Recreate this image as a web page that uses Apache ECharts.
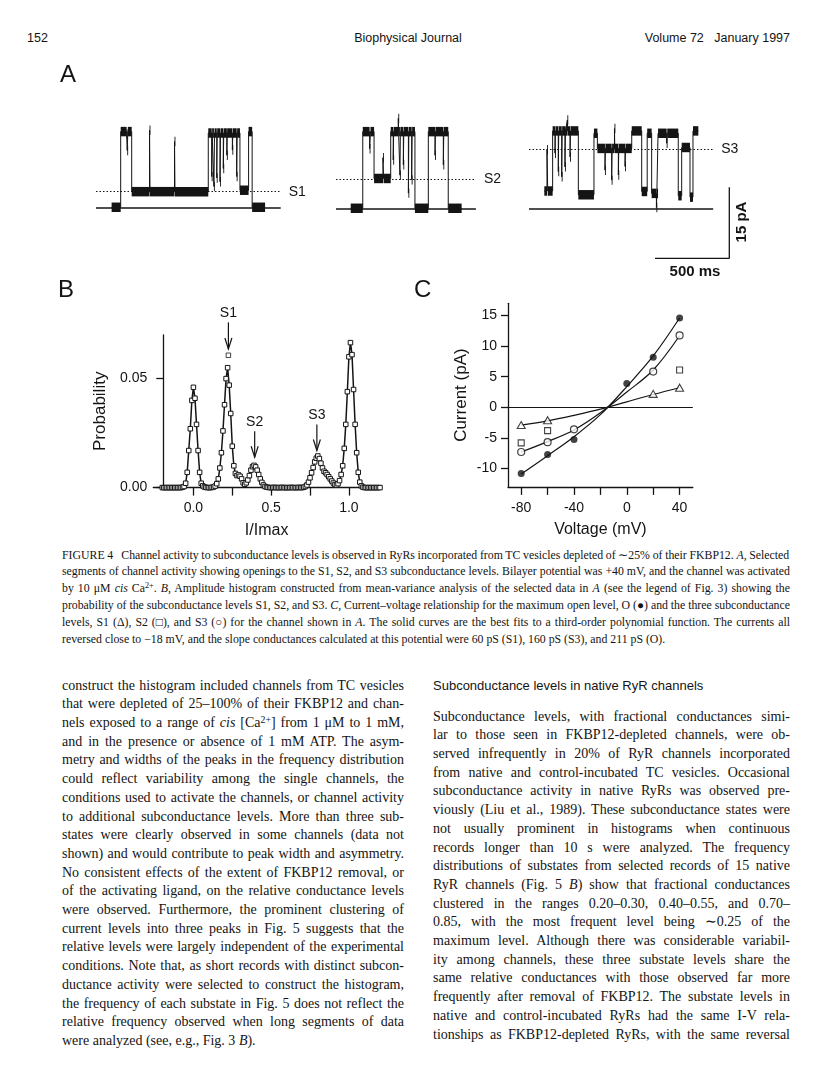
<!DOCTYPE html>
<html><head><meta charset="utf-8">
<script src="https://cdn.jsdelivr.net/npm/echarts@6/dist/echarts.min.js"></script>
<style>
html,body{margin:0;padding:0;background:#fff}
body{width:816px;height:1078px;position:relative;overflow:hidden;color:#141414}
#chart{position:absolute;left:0;top:0;width:816px;height:545px}
.hdr{position:absolute;top:31px;font:12.5px "Liberation Sans",Arial,sans-serif;line-height:14px}
.blk{position:absolute;font-family:"Liberation Serif","Times New Roman",serif}
.blk div{white-space:nowrap;overflow:visible}
.cap{left:62px;top:546.6px;width:728px;font-size:11.8px;line-height:16.8px}
.colL{left:62px;top:676.6px;width:342px;font-size:14px;line-height:18.7px}
.colR{left:433px;top:707.6px;width:357px;font-size:14px;line-height:18.7px}
.head{position:absolute;left:433px;top:678px;font:13px "Liberation Sans",Arial,sans-serif;line-height:16px}
sup{font-size:0.7em;line-height:0;vertical-align:0.45em}
</style></head>
<body>
<div class="hdr" style="left:27px">152</div>
<div class="hdr" style="left:0;width:816px;text-align:center">Biophysical Journal</div>
<div class="hdr" style="right:26px">Volume 72&nbsp;&nbsp;&nbsp;January 1997</div>
<div id="chart"></div>

<div class="blk cap">
<div class="j"><span>FIGURE 4&nbsp;&nbsp;&nbsp;Channel activity to subconductance levels is observed in RyRs incorporated from TC vesicles depleted of ∼25% of their FKBP12. <i>A</i>, Selected</span></div>
<div class="j"><span>segments of channel activity showing openings to the S1, S2, and S3 subconductance levels. Bilayer potential was +40 mV, and the channel was activated</span></div>
<div class="j"><span>by 10 μM <i>cis</i> Ca<sup>2+</sup>. <i>B</i>, Amplitude histogram constructed from mean-variance analysis of the selected data in <i>A</i> (see the legend of Fig. 3) showing the</span></div>
<div class="j"><span>probability of the subconductance levels S1, S2, and S3. <i>C</i>, Current–voltage relationship for the maximum open level, O (●) and the three subconductance</span></div>
<div class="j"><span>levels, S1 (Δ), S2 (□), and S3 (○) for the channel shown in <i>A</i>. The solid curves are the best fits to a third-order polynomial function. The currents all</span></div>
<div class="l"><span>reversed close to −18 mV, and the slope conductances calculated at this potential were 60 pS (S1), 160 pS (S3), and 211 pS (O).</span></div>
</div>

<div class="blk colL">
<div class="j"><span>construct the histogram included channels from TC vesicles</span></div>
<div class="j"><span>that were depleted of 25–100% of their FKBP12 and chan-</span></div>
<div class="j"><span>nels exposed to a range of <i>cis</i> [Ca<sup>2+</sup>] from 1 μM to 1 mM,</span></div>
<div class="j"><span>and in the presence or absence of 1 mM ATP. The asym-</span></div>
<div class="j"><span>metry and widths of the peaks in the frequency distribution</span></div>
<div class="j"><span>could reflect variability among the single channels, the</span></div>
<div class="j"><span>conditions used to activate the channels, or channel activity</span></div>
<div class="j"><span>to additional subconductance levels. More than three sub-</span></div>
<div class="j"><span>states were clearly observed in some channels (data not</span></div>
<div class="j"><span>shown) and would contribute to peak width and asymmetry.</span></div>
<div class="j"><span>No consistent effects of the extent of FKBP12 removal, or</span></div>
<div class="j"><span>of the activating ligand, on the relative conductance levels</span></div>
<div class="j"><span>were observed. Furthermore, the prominent clustering of</span></div>
<div class="j"><span>current levels into three peaks in Fig. 5 suggests that the</span></div>
<div class="j"><span>relative levels were largely independent of the experimental</span></div>
<div class="j"><span>conditions. Note that, as short records with distinct subcon-</span></div>
<div class="j"><span>ductance activity were selected to construct the histogram,</span></div>
<div class="j"><span>the frequency of each substate in Fig. 5 does not reflect the</span></div>
<div class="j"><span>relative frequency observed when long segments of data</span></div>
<div class="l"><span>were analyzed (see, e.g., Fig. 3 <i>B</i>).</span></div>
</div>

<div class="head">Subconductance levels in native RyR channels</div>
<div class="blk colR">
<div class="j"><span>Subconductance levels, with fractional conductances simi-</span></div>
<div class="j"><span>lar to those seen in FKBP12-depleted channels, were ob-</span></div>
<div class="j"><span>served infrequently in 20% of RyR channels incorporated</span></div>
<div class="j"><span>from native and control-incubated TC vesicles. Occasional</span></div>
<div class="j"><span>subconductance activity in native RyRs was observed pre-</span></div>
<div class="j"><span>viously (Liu et al., 1989). These subconductance states were</span></div>
<div class="j"><span>not usually prominent in histograms when continuous</span></div>
<div class="j"><span>records longer than 10 s were analyzed. The frequency</span></div>
<div class="j"><span>distributions of substates from selected records of 15 native</span></div>
<div class="j"><span>RyR channels (Fig. 5 <i>B</i>) show that fractional conductances</span></div>
<div class="j"><span>clustered in the ranges 0.20–0.30, 0.40–0.55, and 0.70–</span></div>
<div class="j"><span>0.85, with the most frequent level being ∼0.25 of the</span></div>
<div class="j"><span>maximum level. Although there was considerable variabil-</span></div>
<div class="j"><span>ity among channels, these three substate levels share the</span></div>
<div class="j"><span>same relative conductances with those observed far more</span></div>
<div class="j"><span>frequently after removal of FKBP12. The substate levels in</span></div>
<div class="j"><span>native and control-incubated RyRs had the same I-V rela-</span></div>
<div class="j"><span>tionships as FKBP12-depleted RyRs, with the same reversal</span></div>
</div>

<script>
// ---------------- DATA ----------------
// Panel A: idealised single-channel records, [time ms, current pA] step points
const trace1Steps = [[105,0],[166,16],[206,15.5],[210,12],[214,16],[240,3.3],[360,16.3],[363,3.3],[528,13.9],[531,3.3],
  [755,15.7],[778,6.5],[781,15.7],[793,4.4],[797,15.7],[812,6.2],[815,15.7],[834,5.4],[837,15.7],[856,8.2],[859,15.7],
  [880,11],[882,15.7],[917,12.1],[920,15.7],[946,6.5],[949,15.7],[968,3.6],[1026,16],[1050,0],[1137,0]];
const trace2Steps = [[99,0],[180,16.2],[226,12.6],[232,16.2],[256,6.3],[316,10.7],[320,6.3],[368,16.2],[385,10.2],[388,16.2],
  [419,19],[421,16.2],[430,7],[433,16.2],[453,9.2],[456,16.2],[487,3.2],[490,16.2],[509,6],[512,16.2],[531,0],
  [621,16.2],[666,11.2],[669,16.2],[722,9.2],[725,16.2],[755,0],[845,0]];
const trace3Steps = [[103,3.8],[121,12.5],[126,3.8],[159,16.5],[175,11.8],[178,16.5],[197,7.9],[200,16.5],[220,6.8],[223,16.5],
  [242,8.9],[245,16.5],[258,18.8],[260,16.5],[276,11],[279,16.5],[332,3.0],[437,16],[460,12.8],[511,8.2],[514,12.8],
  [556,6.1],[559,12.8],[575,17],[577,12.8],[601,7.2],[604,12.8],[646,9],[649,12.8],[691,16.5],[758,3.7],[795,16],
  [825,3.3],[857,0.3],[860,3.3],[868,16],[926,13.9],[930,16],[1004,2.8],[1027,13],[1083,2.5],[1103,16.5],[1139,16.5]];
const traceDurations = [1242, 941, 1239];          // ms
const subLevelNames = ['S1', 'S2', 'S3'];
const subLevels = [3.3, 6.2, 12.6];                // pA
const scaleBarTime = 500;                          // ms
const scaleBarCurrent = 15;                        // pA

// Panel B: amplitude histogram, bins of 0.01 starting at -0.20
const histBinStart = -0.20;
const histBinWidth = 0.01;
const histProb = [
  0,0,0,0,0,0,0,0,0,0,0,0,0,0.0002,                       // -0.20 .. -0.07
  0.0005,0.002,0.007,0.017,0.027,0.040,0.046,0.041,0.029,0.017,0.007,0.002,0.0008,0.0003, // -0.06 .. 0.07
  0.0001,0,0,0,0.0001,0.0003,0.0007,0.0018,0.004,0.009,0.016,0.026,0.038,0.050,0.055,0.047, // 0.08 .. 0.23
  0.034,0.019,0.010,0.0065,0.0055,0.0058,0.0052,0.0040,0.0022,0.0015,0.0022,0.0035,0.0055,0.008, // 0.24 .. 0.37
  0.0096,0.0102,0.0095,0.0080,0.0060,0.0040,0.0024,0.0012,0.0005,0.0002,                  // 0.38 .. 0.47
  0.0001,0,0,0,0.0001,0,0,0,0,0.0001,0,0,0,0,0,0.0001,0,0,0,0,0.0001,0,0,                // 0.48 .. 0.70
  0.0002,0.0005,0.0012,0.0025,0.0045,0.0068,0.0092,0.0118,0.0135,0.0145,0.0133,0.0112,0.0090, // 0.71 .. 0.83
  0.0075,0.0068,0.0060,0.0050,0.0040,0.0030,0.0021,0.0014,0.0012,0.0018,0.0032,0.0060,0.0100, // 0.84 .. 0.96
  0.0180,0.0290,0.0440,0.0600,0.0665,0.0610,0.0450,0.0290,0.0160,0.0070,0.0025,0.0008,0.0002, // 0.97 .. 1.09
  0,0,0,0,0,0,0,0,0,0,0                                    // 1.10 .. 1.20
];
const histExtraX = [0.225];
const histExtraY = [0.0607];
const arrowLabels = ['S1', 'S2', 'S3'];
const arrowX = [0.225, 0.394, 0.794];
const arrowTop = [0.0758, 0.0258, 0.0289];
const arrowTip = [0.0636, 0.0139, 0.0170];

// Panel C: current-voltage relationship
const openV = [-80, -60, -40, 0, 20, 40];
const openI = [-10.8, -7.7, -5.25, 3.9, 8.2, 14.6];
const s3V = [-80, -60, -40, 20, 40];
const s3I = [-7.3, -5.7, -3.6, 5.85, 11.75];
const s2V = [-80, -60, 40];
const s2I = [-5.8, -3.8, 6.1];
const s1V = [-80, -60, 20, 40];
const s1I = [-2.9, -2.1, 2.2, 3.2];
const fitV = [-80, -60, -40, -20, 0, 20, 40];
const openFit = [-10.9, -7.9, -4.8, -1.2, 3.4, 8.4, 14.6];
const s3Fit = [-7.3, -5.6, -3.7, -0.9, 2.5, 6.1, 11.7];
const s1Fit = [-2.9, -2.2, -1.3, -0.3, 0.9, 2.1, 3.2];

// ---------------- CHART ----------------
const ink = '#141414';
const FONT = '"Liberation Sans", Arial, Helvetica, sans-serif';
const NOISE = 1.0; // half-width of noise band in pA (style)
const zip = (a, b) => a.map((v, i) => [v, b[i]]);

function traceSeries(steps, idx) {
  const segs = [];
  for (let i = 0; i < steps.length - 1; i++) segs.push([steps[i][0], steps[i + 1][0], steps[i][1]]);
  return [
    { type: 'line', xAxisIndex: idx, yAxisIndex: idx, data: steps, step: 'end', symbol: 'none',
      lineStyle: { color: ink, width: 1 }, clip: false, z: 2,
      markLine: { silent: true, symbol: 'none', animation: false,
        data: [
          { yAxis: 0, lineStyle: { type: 'solid', width: 1.6, color: ink }, label: { show: false } },
          { yAxis: subLevels[idx], lineStyle: { type: [1.5, 2], width: 1, color: ink },
            label: { show: true, position: 'end', formatter: subLevelNames[idx], distance: 8,
              fontSize: 14, fontFamily: FONT, color: ink } }
        ] } },
    { type: 'custom', xAxisIndex: idx, yAxisIndex: idx, data: segs, clip: false, z: 3,
      renderItem: function (params, api) {
        const a = api.coord([api.value(0), api.value(2) + NOISE]);
        const b = api.coord([api.value(1), api.value(2) - NOISE]);
        return { type: 'rect', shape: { x: a[0], y: a[1], width: Math.max(b[0] - a[0], 0.9), height: b[1] - a[1] },
          style: { fill: ink } };
      } }
  ];
}

const histData = histProb.map((p, i) => [+(histBinStart + i * histBinWidth).toFixed(3), p]);
const arrowData = arrowX.map((x, i) => [x, arrowTop[i], arrowTip[i]]);

const hiddenX = (g, max) => ({ gridIndex: g, type: 'value', min: 0, max: max, show: false });
const hiddenY = (g, min, max) => ({ gridIndex: g, type: 'value', min: min, max: max, show: false });
const axLine = { show: true, onZero: false, lineStyle: { color: ink, width: 1.3 } };
const lblStyle = { fontSize: 14, color: ink, fontFamily: FONT };
const nameStyle = { fontSize: 16, color: ink, fontFamily: FONT };

const bYLabels = [0, 0.05], bXTicks = [0, 0.25, 0.5, 0.75, 1], bXLabels = [0, 0.5, 1];
const cYTicks = [-10, -5, 0, 5, 10, 15], cXTicks = [-80, -60, -40, -20, 0, 20, 40], cXLabels = [-80, -40, 0, 40];
const near = (list, v) => list.some(t => Math.abs(t - v) < 1e-6);

const option = {
  animation: false,
  backgroundColor: 'transparent',
  grid: [
    { left: 96, top: 117.4, width: 184.7, height: 104.06, outerBoundsMode: 'none' },
    { left: 336, top: 118.4, width: 139.9, height: 104.06, outerBoundsMode: 'none' },
    { left: 529, top: 119.1, width: 184.2, height: 104.06, outerBoundsMode: 'none' },
    { left: 655, top: 187.3, width: 74.3, height: 71, outerBoundsMode: 'none' },
    { left: 153.3, top: 335, width: 226.7, height: 152.6, outerBoundsMode: 'none' },
    { left: 508, top: 303.3, width: 184.8, height: 183.6, outerBoundsMode: 'none' }
  ],
  xAxis: [
    hiddenX(0, traceDurations[0]), hiddenX(1, traceDurations[1]), hiddenX(2, traceDurations[2]),
    hiddenX(3, scaleBarTime),
    { gridIndex: 4, type: 'value', min: -0.258, max: 1.2, axisLine: axLine,
      axisTick: { show: true, length: 8, customValues: bXTicks, lineStyle: { color: ink, width: 1.3 } },
      axisLabel: Object.assign({ customValues: bXLabels, margin: 14,
        formatter: v => near(bXLabels, v) ? v.toFixed(1) : '' }, lblStyle),
      splitLine: { show: false }, name: 'I/Imax', nameLocation: 'middle', nameGap: 35, nameTextStyle: nameStyle },
    { gridIndex: 5, type: 'value', min: -90, max: 50, axisLine: axLine,
      axisTick: { show: true, length: 8, customValues: cXTicks, lineStyle: { color: ink, width: 1.3 } },
      axisLabel: Object.assign({ customValues: cXLabels, margin: 14,
        formatter: v => near(cXLabels, v) ? String(v) : '' }, lblStyle),
      splitLine: { show: false }, name: 'Voltage (mV)', nameLocation: 'middle', nameGap: 35, nameTextStyle: nameStyle }
  ],
  yAxis: [
    hiddenY(0, -3, 19), hiddenY(1, -3, 19), hiddenY(2, -3, 19), hiddenY(3, 0, scaleBarCurrent),
    { gridIndex: 4, type: 'value', min: 0, max: 0.07, offset: -10, axisLine: axLine,
      axisTick: { show: true, length: 7, customValues: bYLabels, lineStyle: { color: ink, width: 1.3 } },
      axisLabel: Object.assign({ customValues: bYLabels, margin: 16,
        formatter: v => near(bYLabels, v) ? v.toFixed(2) : '' }, lblStyle),
      splitLine: { show: false }, name: 'Probability', nameLocation: 'middle', nameGap: 54,
      nameTextStyle: Object.assign({}, nameStyle, { fontSize: 17 }) },
    { gridIndex: 5, type: 'value', min: -13, max: 17, axisLine: axLine,
      axisTick: { show: true, length: 7, customValues: cYTicks, lineStyle: { color: ink, width: 1.3 } },
      axisLabel: Object.assign({ customValues: cYTicks, margin: 11,
        formatter: v => near(cYTicks, v) ? String(v) : '' }, lblStyle),
      splitLine: { show: false }, name: 'Current (pA)', nameLocation: 'middle', nameGap: 38,
      nameTextStyle: Object.assign({}, nameStyle, { fontSize: 17 }) }
  ],
  series: [].concat(
    traceSeries(trace1Steps, 0), traceSeries(trace2Steps, 1), traceSeries(trace3Steps, 2),
    [
      { type: 'line', xAxisIndex: 3, yAxisIndex: 3, symbol: 'none', clip: false,
        data: [[0, 0], [scaleBarTime, 0], [scaleBarTime, scaleBarCurrent]], lineStyle: { color: ink, width: 1.3 } },
      // Panel B
      { type: 'line', xAxisIndex: 4, yAxisIndex: 4, data: histData, symbol: 'rect', symbolSize: 4.5,
        showAllSymbol: true, clip: false, z: 4,
        lineStyle: { color: ink, width: 1.5 }, itemStyle: { color: '#fff', borderColor: ink, borderWidth: 1 } },
      { type: 'scatter', xAxisIndex: 4, yAxisIndex: 4, data: zip(histExtraX, histExtraY), symbol: 'rect',
        symbolSize: 4.5, clip: false, z: 5, itemStyle: { color: '#fff', borderColor: ink, borderWidth: 1 } },
      { type: 'custom', xAxisIndex: 4, yAxisIndex: 4, data: arrowData, clip: false, z: 6,
        renderItem: function (params, api) {
          const p1 = api.coord([api.value(0), api.value(1)]);
          const p2 = api.coord([api.value(0), api.value(2)]);
          return { type: 'group', children: [
            { type: 'line', shape: { x1: p1[0], y1: p1[1], x2: p2[0], y2: p2[1] }, style: { stroke: ink, lineWidth: 1.2 } },
            { type: 'polyline', shape: { points: [[p2[0] - 3.5, p2[1] - 11], [p2[0], p2[1]], [p2[0] + 3.5, p2[1] - 11]] },
              style: { stroke: ink, lineWidth: 1.2, fill: null } },
            { type: 'text', style: { text: arrowLabels[params.dataIndex], x: p1[0], y: p1[1] - 2,
              align: 'center', verticalAlign: 'bottom', textAlign: 'center', textVerticalAlign: 'bottom',
              font: '14px ' + FONT, fill: ink } }
          ] };
        } },
      // Panel C
      { type: 'line', xAxisIndex: 5, yAxisIndex: 5, data: zip(fitV, openFit), smooth: 0.35, symbol: 'none',
        lineStyle: { color: ink, width: 1.2 },
        markLine: { silent: true, symbol: 'none', animation: false, label: { show: false },
          data: [{ yAxis: 0 }], lineStyle: { type: 'solid', color: ink, width: 1 } } },
      { type: 'line', xAxisIndex: 5, yAxisIndex: 5, data: zip(fitV, s3Fit), smooth: 0.35, symbol: 'none',
        lineStyle: { color: ink, width: 1.2 } },
      { type: 'line', xAxisIndex: 5, yAxisIndex: 5, data: zip(fitV, s1Fit), smooth: 0.35, symbol: 'none',
        lineStyle: { color: ink, width: 1.2 } },
      { type: 'scatter', xAxisIndex: 5, yAxisIndex: 5, data: zip(openV, openI), symbol: 'circle', symbolSize: 7,
        z: 5, itemStyle: { color: ink } },
      { type: 'scatter', xAxisIndex: 5, yAxisIndex: 5, data: zip(s3V, s3I), symbol: 'circle', symbolSize: 7,
        z: 5, itemStyle: { color: '#fff', borderColor: ink, borderWidth: 1.2 } },
      { type: 'scatter', xAxisIndex: 5, yAxisIndex: 5, data: zip(s2V, s2I), symbol: 'rect', symbolSize: 6,
        z: 5, itemStyle: { color: '#fff', borderColor: ink, borderWidth: 1.1 } },
      { type: 'scatter', xAxisIndex: 5, yAxisIndex: 5, data: zip(s1V, s1I), symbol: 'triangle', symbolSize: [8, 7],
        z: 5, itemStyle: { color: '#fff', borderColor: ink, borderWidth: 1.1 } }
    ]
  ),
  graphic: [
    { type: 'text', left: 60, top: 63, style: { text: 'A', font: '24px ' + FONT, fill: ink } },
    { type: 'text', left: 58, top: 278, style: { text: 'B', font: '24px ' + FONT, fill: ink } },
    { type: 'text', left: 414, top: 278, style: { text: 'C', font: '24px ' + FONT, fill: ink } },
    { type: 'text', x: 742, y: 222, rotation: Math.PI / 2,
      style: { text: '15 pA', font: 'bold 15px ' + FONT, fill: ink, align: 'center', verticalAlign: 'middle',
        textAlign: 'center', textVerticalAlign: 'middle' } },
    { type: 'text', x: 695, y: 272,
      style: { text: '500 ms', font: 'bold 15px ' + FONT, fill: ink, align: 'center', verticalAlign: 'middle',
        textAlign: 'center', textVerticalAlign: 'middle' } }
  ]
};

const chart = echarts.init(document.getElementById('chart'));
chart.setOption(option);

// manual justification of text lines
document.querySelectorAll('.blk div').forEach(d => {
  const s = d.firstElementChild;
  const W = d.parentElement.clientWidth;
  const w = s.getBoundingClientRect().width;
  const n = (s.textContent.match(/ /g) || []).length;
  if (d.classList.contains('j') || w > W) {
    if (n > 0) s.style.wordSpacing = ((W - w) / n) + 'px';
  }
});
</script>
</body></html>
